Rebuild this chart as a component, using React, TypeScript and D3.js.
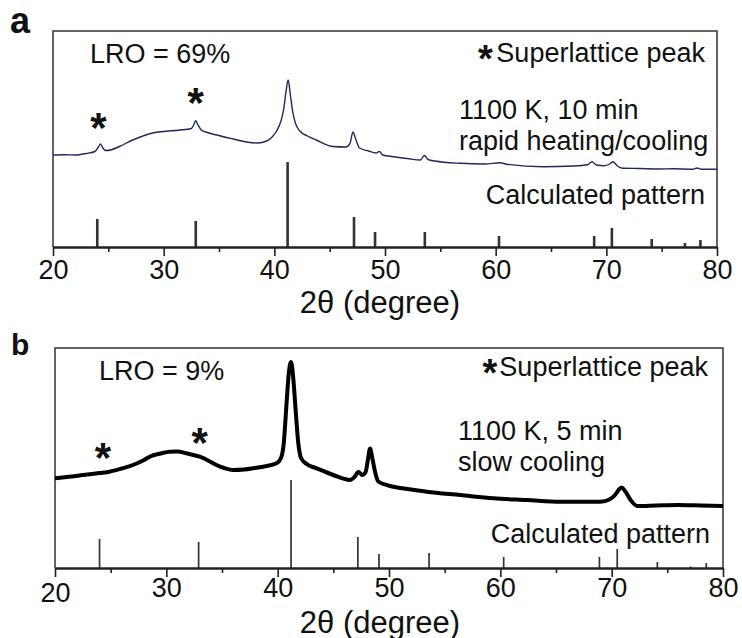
import React, { useEffect, useRef } from "react";
import * as d3 from "d3";

type Pt = [number, number];

const W = 742;
const H = 638;
const FONT = "'Liberation Sans', Arial, Helvetica, sans-serif";

const xTicks = [20, 30, 40, 50, 60, 70, 80];
const xMinor = [25, 35, 45, 55, 65, 75];

// measured XRD scan, panel a (2θ, intensity a.u.)
const scanA: Pt[] = [
  [20, 92], [21, 92.3], [22, 92], [23, 93.5], [23.8, 95.5], [24.1, 100], [24.3, 103], [24.5, 99],
  [24.8, 96.5], [25.2, 97], [26, 100.5], [27.2, 107], [28, 110.5], [29, 114], [30, 115.5], [31, 116.5],
  [32, 117.5], [32.5, 118.5], [32.75, 123], [32.9, 126.3], [33.1, 122], [33.4, 117], [33.8, 115],
  [34.8, 112], [36.3, 108], [37.5, 105], [38.5, 104], [39.3, 106], [39.8, 110], [40.2, 116],
  [40.6, 126], [40.85, 138], [41.05, 155], [41.25, 167], [41.45, 152], [41.65, 136], [41.9, 124],
  [42.3, 116], [43, 111], [43.8, 107], [45.3, 100.5], [46.5, 100], [46.85, 104], [47.1, 115],
  [47.35, 108], [47.7, 99], [48.5, 96], [49.2, 94], [49.5, 95.5], [49.8, 92], [50.75, 90.3],
  [52, 88.5], [53.2, 87], [53.55, 91.5], [53.9, 87.5], [54.5, 86], [56.8, 83.7], [59, 83],
  [60.4, 84.3], [61, 82.8], [64.3, 80.3], [67, 81], [68.3, 82.2], [68.7, 85.3], [69.1, 82],
  [69.8, 81.3], [70.3, 83], [70.6, 85.3], [71, 81], [71.5, 78.8], [73, 78.5], [74.85, 78],
  [76, 78.2], [77.8, 77.7], [78.2, 79], [78.6, 77.8], [80, 77.7],
];

// measured XRD scan, panel b
const scanB: Pt[] = [
  [20, 89.7], [21.5, 91.5], [22.5, 93], [24, 95], [24.9, 96.3], [26, 99.5], [27, 103], [28, 108],
  [28.5, 111.3], [29.5, 114.5], [30.3, 116.3], [31, 116.5], [31.8, 114.7], [33, 111.3], [34, 106],
  [34.5, 103], [35.2, 100], [36, 98], [37, 98.5], [37.8, 99.7], [39, 102], [39.9, 104.7], [40.3, 110],
  [40.55, 125], [40.8, 165], [41.0, 195], [41.2, 206], [41.4, 190], [41.6, 160], [41.85, 125],
  [42.1, 110], [42.6, 104], [43.5, 99.7], [45, 93], [46.5, 88], [46.9, 91], [47.25, 96], [47.6, 93],
  [47.9, 96], [48.1, 108], [48.3, 119.5], [48.5, 110], [48.75, 96], [49.05, 86.3], [50.4, 81.3],
  [52, 78.5], [53.4, 76.3], [56.4, 73], [59.4, 69.7], [62.4, 68], [65.4, 66.3], [69, 66.3],
  [69.8, 68.5], [70.3, 73], [70.7, 79], [70.9, 80.5], [71.2, 77], [71.7, 68], [72.3, 62], [74, 62.5],
  [75.9, 63], [78, 62.5], [80, 62],
];

// calculated pattern
const calcPos = [24.0, 32.9, 41.2, 47.2, 49.1, 53.6, 60.3, 68.9, 70.5, 74.1, 77.1, 78.5];
const calcA = [28, 26, 85, 30, 15, 15, 11, 11, 19, 8, 4, 7];
const calcB = [29, 26, 88, 31, 14, 15, 11, 11, 19, 6, 1.5, 5];

// superlattice markers (2θ, height)
const starsA: Pt[] = [[24.1, 124], [32.9, 149]];
const starsB: Pt[] = [[24.3, 115], [33.0, 130]];

const panels = [
  {
    tag: "a", tagSize: 36, lro: "LRO = 69%", cond: ["1100 K, 10 min", "rapid heating/cooling"],
    scan: scanA, calc: calcA, stars: starsA, yMax: 216,
    box: { l: 53, r: 717, t: 31, b: 247 },
    color: "#1c2a5c", lw: 1.4, sw: 2.6,
    pos: { tag: [10, 33], lro: [90, 63], star: [485.5, 55], sup: [705, 61.5], cond: [459, 118.5, 149.5], calc: [705, 203.5], tick: 278.5, title: 313 },
  },
  {
    tag: "b", tagSize: 30, lro: "LRO = 9%", cond: ["1100 K, 5 min", "slow cooling"],
    scan: scanB, calc: calcB, stars: starsB, yMax: 220,
    box: { l: 55, r: 723, t: 348, b: 568 },
    color: "#000", lw: 4, sw: 1.7,
    pos: { tag: [11, 355], lro: [99, 379.5], star: [490, 369], sup: [708, 376], cond: [458, 439.5, 470.5], calc: [710, 542.5], tick: 596.5, title: 632.5 },
  },
];

export default function App() {
  const ref = useRef<SVGSVGElement>(null);

  useEffect(() => {
    const svg = d3.select(ref.current);
    svg.selectAll("*").remove();

    panels.forEach((p, i) => {
      const { box, pos } = p;
      const x = d3.scaleLinear().domain([20, 80]).range([box.l, box.r]);
      const y = d3.scaleLinear().domain([0, p.yMax]).range([box.b, box.t]);
      const g = svg.append("g").attr("font-family", FONT).attr("fill", "#111");

      // frame (top, left, right)
      g.append("path")
        .attr("d", `M${box.l},${box.b}V${box.t}H${box.r}V${box.b}`)
        .attr("fill", "none")
        .attr("stroke", "#333")
        .attr("stroke-width", 1.5);

      // calculated pattern sticks
      g.selectAll("line.stick")
        .data(calcPos)
        .enter()
        .append("line")
        .attr("x1", d => x(d))
        .attr("x2", d => x(d))
        .attr("y1", y(0))
        .attr("y2", (_, j) => y(p.calc[j]))
        .attr("stroke", "#333")
        .attr("stroke-width", p.sw);

      // measured scan
      const line = d3.line<Pt>().x(d => x(d[0])).y(d => y(d[1])).curve(d3.curveMonotoneX);
      g.append("path")
        .datum(p.scan)
        .attr("d", line)
        .attr("fill", "none")
        .attr("stroke", p.color)
        .attr("stroke-width", p.lw)
        .attr("stroke-linejoin", "round");

      // superlattice markers (asterisk glyph centre sits ~0.45em above baseline)
      g.selectAll("text.star")
        .data(p.stars)
        .enter()
        .append("text")
        .attr("x", d => x(d[0]))
        .attr("y", d => y(d[1]) + 19)
        .attr("text-anchor", "middle")
        .attr("font-size", 42)
        .attr("font-weight", "bold")
        .text("*");

      // axis
      const ax = g.append("g").attr("transform", `translate(0,${box.b})`);
      ax.call(d3.axisBottom(x).tickValues(xTicks).tickSize(9).tickSizeOuter(0).tickFormat(d3.format("d")));
      ax.select(".domain").attr("stroke", "#222").attr("stroke-width", 2.5);
      ax.selectAll(".tick line").attr("stroke", "#222").attr("stroke-width", 1.6);
      ax.selectAll<SVGTextElement, number>(".tick text")
        .attr("y", d => pos.tick - box.b + (i === 1 && d === 20 ? 5 : 0))
        .attr("dy", 0)
        .attr("font-size", 27)
        .attr("font-family", FONT)
        .attr("fill", "#111");
      const mn = g.append("g").attr("transform", `translate(0,${box.b})`);
      mn.call(d3.axisBottom(x).tickValues(xMinor).tickSize(5).tickFormat(() => ""));
      mn.select(".domain").remove();
      mn.selectAll(".tick line").attr("stroke", "#222").attr("stroke-width", 1.6);

      g.append("text")
        .attr("x", 380)
        .attr("y", pos.title)
        .attr("text-anchor", "middle")
        .attr("font-size", 31)
        .text("2θ (degree)");

      // annotations
      g.append("text")
        .attr("x", pos.tag[0])
        .attr("y", pos.tag[1])
        .attr("font-size", p.tagSize)
        .attr("font-weight", "bold")
        .text(p.tag);
      g.append("text").attr("x", pos.lro[0]).attr("y", pos.lro[1]).attr("font-size", 27).text(p.lro);
      g.append("text")
        .attr("x", pos.star[0])
        .attr("y", pos.star[1] + 17)
        .attr("text-anchor", "middle")
        .attr("font-size", 38)
        .attr("font-weight", "bold")
        .text("*");
      g.append("text")
        .attr("x", pos.sup[0])
        .attr("y", pos.sup[1])
        .attr("text-anchor", "end")
        .attr("font-size", 27)
        .text("Superlattice peak");
      p.cond.forEach((c, k) => {
        g.append("text").attr("x", pos.cond[0]).attr("y", pos.cond[k + 1]).attr("font-size", 27).text(c);
      });
      g.append("text")
        .attr("x", pos.calc[0])
        .attr("y", pos.calc[1])
        .attr("text-anchor", "end")
        .attr("font-size", 27)
        .text("Calculated pattern");
    });
  }, []);

  return (
    <svg
      ref={ref}
      width={W}
      height={H}
      viewBox={`0 0 ${W} ${H}`}
      style={{ position: "absolute", left: 0, top: 0, background: "#fff", display: "block" }}
    />
  );
}
